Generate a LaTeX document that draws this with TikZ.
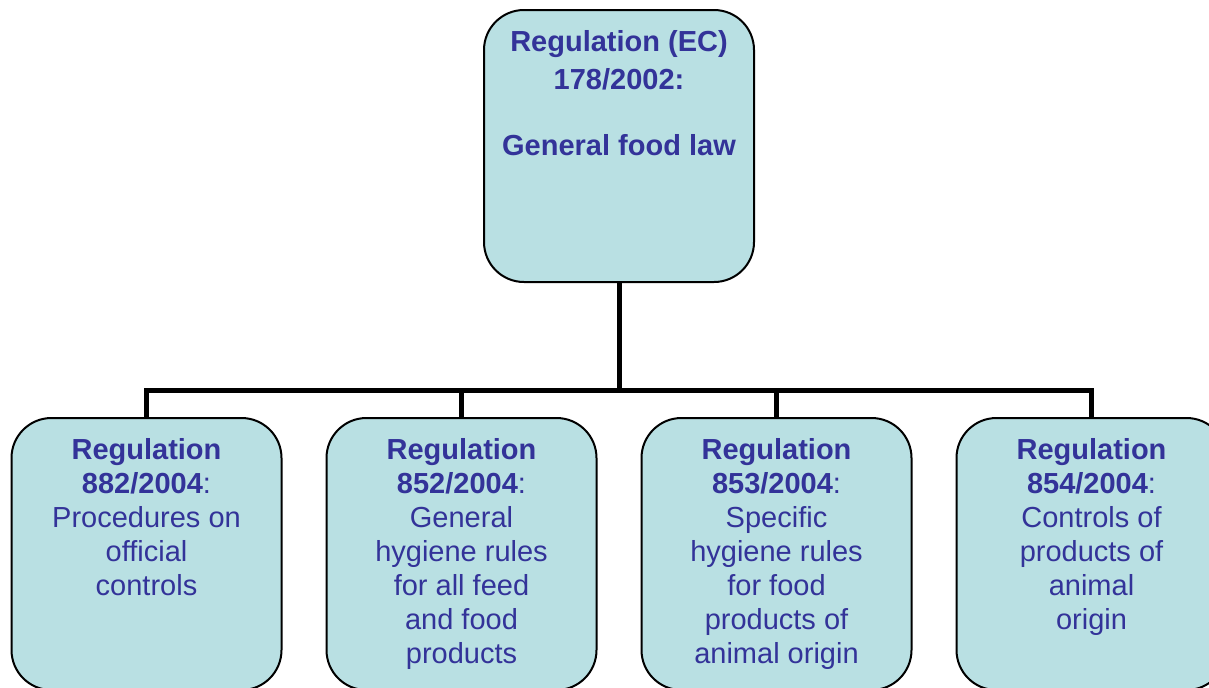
\documentclass[tikz,border=0pt]{standalone}
\usepackage{fontspec}
\setmainfont{Liberation Sans}
\usetikzlibrary{positioning}
\definecolor{boksfarge}{RGB}{185,224,227}
\definecolor{tekstfarge}{RGB}{51,51,153}
% text sits at the top of the box
\newcommand{\innhold}[1]{\parbox[c][136pt][t]{135pt}{\centering\rule{0pt}{20.5pt}#1}}
\tikzset{
    %Define style for boxes
    boks/.style={
           rectangle,
           fill=boksfarge,
           rounded corners=20pt,
           draw=black, line width=1pt,
           inner sep=0pt, outer sep=0pt,
           minimum width=135pt,
           minimum height=136pt,
           text=tekstfarge,
           font=\fontsize{14.5}{17}\selectfont},
    % Define line style
    linje/.style={
           draw=black,
           line width=2.5pt}
}
\begin{document}
\begin{tikzpicture}
 \useasboundingbox (0,0) rectangle (604.5pt,-343.5pt);
 \clip (0,0) rectangle (604.5pt,-343.5pt);
 %nodes
 \node[boks] (gfl) at (309.5pt,-73pt)
   {\innhold{\bfseries Regulation (EC)\\[2pt] 178/2002:\\[16pt] General food law}};
 \node[boks, below=68pt of gfl, xshift=-78.75pt] (reg852)
   {\innhold{\textbf{Regulation}\\ \textbf{852/2004}:\\ General\\ hygiene rules\\ for all feed\\ and food\\ products}};
 \node[boks, left=22.5pt of reg852] (reg882)
   {\innhold{\textbf{Regulation}\\ \textbf{882/2004}:\\ Procedures on\\ official\\ controls}};
 \node[boks, right=22.5pt of reg852] (reg853)
   {\innhold{\textbf{Regulation}\\ \textbf{853/2004}:\\ Specific\\ hygiene rules\\ for food\\ products of\\ animal origin}};
 \node[boks, right=22.5pt of reg853] (reg854)
   {\innhold{\textbf{Regulation}\\ \textbf{854/2004}:\\ Controls of\\ products of\\ animal\\ origin}};
 % connectors, via the bus line
 \coordinate[below=54pt of gfl.south] (bus);
 \draw[linje] (gfl.south) -- (bus);
 \foreach \n in {reg882,reg852,reg853,reg854}
   \draw[linje] (bus) -| (\n.north);
\end{tikzpicture}
\end{document}
